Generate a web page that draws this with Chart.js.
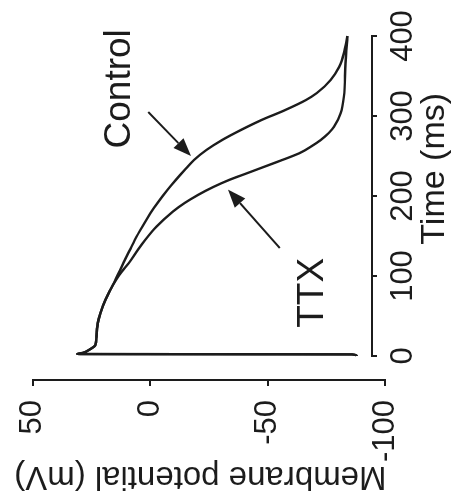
<!DOCTYPE html>
<html lang="en">
<head>
  <meta charset="UTF-8" />
  <title>Membrane potential - Control vs TTX</title>
  <script src="https://cdn.jsdelivr.net/npm/chart.js"></script>
  <style>
    * { margin: 0; padding: 0; box-sizing: border-box; }
    html, body { width: 460px; height: 497px; overflow: hidden; background: #fff; }
    /* chart is drawn upright (497 x 460) and turned a quarter turn to the left */
    .turn { position: absolute; left: 0; top: 0; width: 497px; height: 460px; transform-origin: 0 0; transform: translate(0, 497px) rotate(-90deg); }
  </style>
</head>
<body>
  <div class="turn"><canvas id="trace" width="497" height="460"></canvas></div>
  <script>
    // time (ms) and membrane potential (mV)
    const controlTime = [0, 2, 2.5, 4, 7.5, 13.75, 24, 41, 53.4, 70, 82.5, 95, 116.25, 132.5, 145, 162.5, 178.75, 191.25, 207.5, 220, 232.5, 245, 257.5, 270, 282.5, 295, 307.5, 320, 328.75, 345, 361.25, 378.75, 400];
    const controlMv   = [-88, -86, 31, 28.5, 26.05, 23.24, 22.82, 22.27, 21.13, 19.03, 16.93, 14.75, 11.34, 8.61, 6.51, 3.15, -0.21, -3.15, -7.35, -10.92, -14.71, -18.7, -23.95, -30.67, -38.66, -47.48, -57.56, -66.39, -71.01, -76.89, -80.46, -82.56, -84];
    const ttxTime = [0, 2, 2.5, 4, 7.5, 13.75, 24, 41, 53.4, 70, 82.5, 95, 105, 116.25, 132.5, 145, 161.6, 180.4, 191.25, 201.25, 211.25, 220, 228.4, 240.9, 253.4, 262.5, 270, 278.75, 286.6, 303.4, 324.1, 365.9, 400];
    const ttxMv   = [-88, -86, 31, 28.5, 26.05, 23.24, 22.82, 22.27, 21.13, 19.03, 16.93, 14.5, 12.18, 9.03, 5.25, 2.1, -2.65, -9.66, -14.71, -20.38, -26.89, -33.61, -41.18, -52.52, -63.45, -68.91, -72.69, -76.05, -78.28, -81.09, -82.48, -83.19, -84];
    const timeTicks = [0, 100, 200, 300, 400];
    const mvTicks = [50, 0, -50, -100];

    // arrows: [tail time, tail mV, tip time, tip mV]
    const controlArrow = [305, 0.8, 250, -17.4];
    const ttxArrow = [135, -55.2, 208, -33.2];

    const ink = '#1c1c1c';
    const face = '"Liberation Sans", Arial, Helvetica, sans-serif';
    const axisMv = -94.5; // where the time axis sits

    const toPoints = (ts, vs) => ts.map((t, i) => ({ x: t, y: vs[i] }));

    function arrow(ctx, x0, y0, x1, y1) {
      const a = Math.atan2(y1 - y0, x1 - x0);
      const len = 18, half = 7;
      const bx = x1 - len * Math.cos(a), by = y1 - len * Math.sin(a);
      ctx.beginPath();
      ctx.moveTo(x0, y0);
      ctx.lineTo(bx, by);
      ctx.stroke();
      ctx.beginPath();
      ctx.moveTo(x1, y1);
      ctx.lineTo(bx + half * Math.sin(a), by - half * Math.cos(a));
      ctx.lineTo(bx - half * Math.sin(a), by + half * Math.cos(a));
      ctx.closePath();
      ctx.fill();
    }

    const extras = {
      id: 'extras',
      afterDraw(chart) {
        const { ctx, scales: { x, y } } = chart;
        ctx.save();
        ctx.strokeStyle = ink;
        ctx.fillStyle = ink;
        // time axis line, only over 0..400 ms
        ctx.lineWidth = 2;
        const ay = Math.round(y.getPixelForValue(axisMv));
        ctx.beginPath();
        ctx.moveTo(x.getPixelForValue(timeTicks[0]) - 1, ay);
        ctx.lineTo(x.getPixelForValue(timeTicks[timeTicks.length - 1]) + 1, ay);
        ctx.stroke();
        [controlArrow, ttxArrow].forEach(a => {
          arrow(ctx, x.getPixelForValue(a[0]), y.getPixelForValue(a[1]), x.getPixelForValue(a[2]), y.getPixelForValue(a[3]));
        });
        ctx.textBaseline = 'alphabetic';
        ctx.textAlign = 'center';
        ctx.font = '37px ' + face;
        ctx.fillText('Control', x.getPixelForValue(334), y.getPixelForValue(8.5));
        ctx.fillText('TTX', x.getPixelForValue(79), y.getPixelForValue(-73.4));
        // axis titles
        ctx.font = '34px ' + face;
        ctx.fillText('Time (ms)', x.getPixelForValue(234), 444);
        ctx.save();
        ctx.translate(30, y.getPixelForValue(-21.4));
        ctx.rotate(-Math.PI / 2);
        ctx.font = '33px ' + face;
        ctx.fillText('Membrane potential (mV)', 0, 0);
        ctx.restore();
        ctx.restore();
      }
    };

    const line = (label, pts) => ({
      label, data: pts, borderColor: ink, borderWidth: 2.4,
      pointRadius: 0, cubicInterpolationMode: 'monotone', clip: 10
    });

    new Chart(document.getElementById('trace').getContext('2d'), {
      type: 'line',
      data: { datasets: [line('Control', toPoints(controlTime, controlMv)), line('TTX', toPoints(ttxTime, ttxMv))] },
      options: {
        responsive: false,
        animation: false,
        layout: { padding: { left: 0, right: 36, top: 28, bottom: 75 } },
        plugins: { legend: { display: false }, tooltip: { enabled: false } },
        scales: {
          x: {
            type: 'linear', min: -30, max: 400, position: { y: axisMv },
            afterBuildTicks: s => { s.ticks = timeTicks.map(v => ({ value: v })); },
            ticks: { color: ink, padding: 8, maxRotation: 0, font: { family: face, size: 31 } },
            grid: { drawOnChartArea: false, tickLength: 5, color: ink, lineWidth: 2 },
            border: { display: false }
          },
          y: {
            type: 'linear', min: -100, max: 50, position: 'left',
            afterFit: s => { s.width = 117; },
            afterBuildTicks: s => { s.ticks = mvTicks.map(v => ({ value: v })); },
            ticks: { color: ink, padding: 14, font: { family: face, size: 31 } },
            grid: { drawOnChartArea: false, tickLength: 6, color: ink, lineWidth: 2 },
            border: { color: ink, width: 2 }
          }
        }
      },
      plugins: [extras]
    });
  </script>
</body>
</html>
